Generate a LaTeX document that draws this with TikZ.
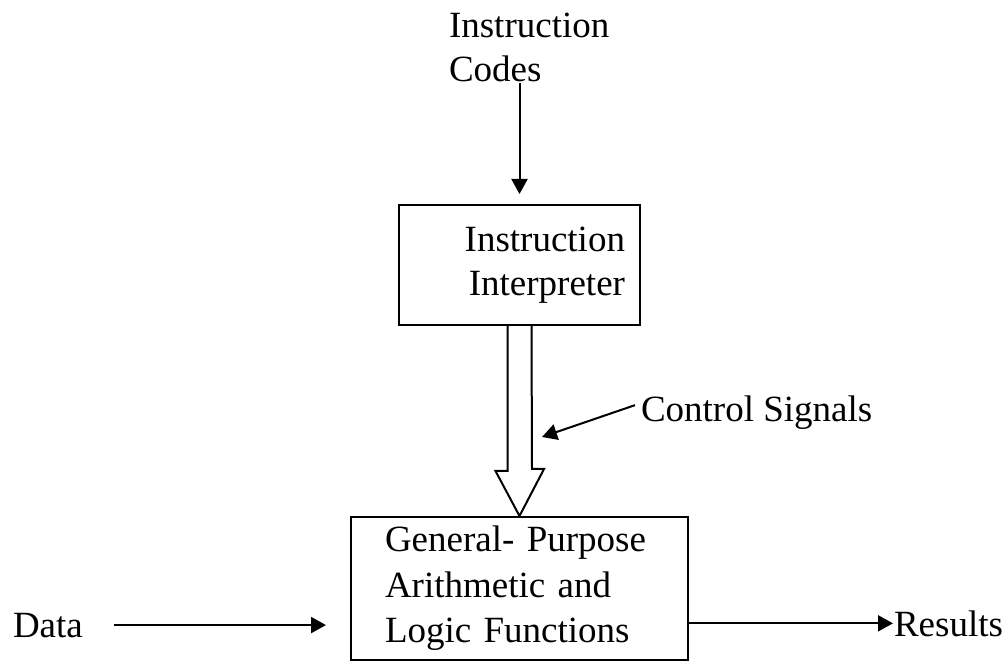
\documentclass[tikz,border=0pt]{standalone}
\usepackage{fontspec}
\setmainfont{Liberation Serif}
\usetikzlibrary{arrows.meta}

\begin{document}
\begin{tikzpicture}[->,>={Triangle[length=7.5pt,width=8pt]},x=0.5pt,y=-0.5pt,line width=1pt,
			box node/.style={rectangle,draw,-,
				font=\fontsize{18.5}{22}\selectfont,inner ysep=0pt},
			label node/.style={font=\fontsize{18.5}{22}\selectfont,inner sep=0pt}
			]
			\useasboundingbox (0,0) rectangle (1007,662);
			
			\node[box node,minimum width=120.5pt,minimum height=60pt,
				text width=105.5pt,inner xsep=7.5pt,align=right] (II) at (519.5,265) {Instruction\\Interpreter};
			\node[box node,minimum width=168.5pt,minimum height=71.5pt,
				font=\fontsize{18.5}{22.75}\selectfont,
				text width=134.5pt,inner xsep=17pt,align=left] (GP) at (519.5,588.5) {General- Purpose\\Arithmetic and\\Logic Functions};
			
			\node[label node,anchor=north west,align=left] (IC) at (448,12) {Instruction\\Codes};
			\node[label node,anchor=base west] (CS) at (640,422) {Control Signals};
			\node[label node,anchor=base west] (D) at (12,637) {Data};
			\node[label node,anchor=base west] (R) at (893,636) {Results};
			\coordinate (sigtip) at (542,437);
			
			% hollow arrow
			\draw[-] ([xshift=-6pt]II.south) -- ++(0,145) -- ++(-12,0) -- (GP.north)
				-- ++(24.5,-47) -- ++(-12,0) -- ([xshift=6pt]II.south);
			
			\draw[shorten >=5pt] (II.north |- IC.south) -- (II.north);
			\draw ([xshift=-2.5pt,yshift=4pt]CS.west) -- (sigtip);
			\draw[shorten <=15pt,shorten >=12pt] (D.east) -- (D.east -| GP.west);
			\draw (GP.east |- R.west) -- (R.west);
			
		\end{tikzpicture}
\end{document}
